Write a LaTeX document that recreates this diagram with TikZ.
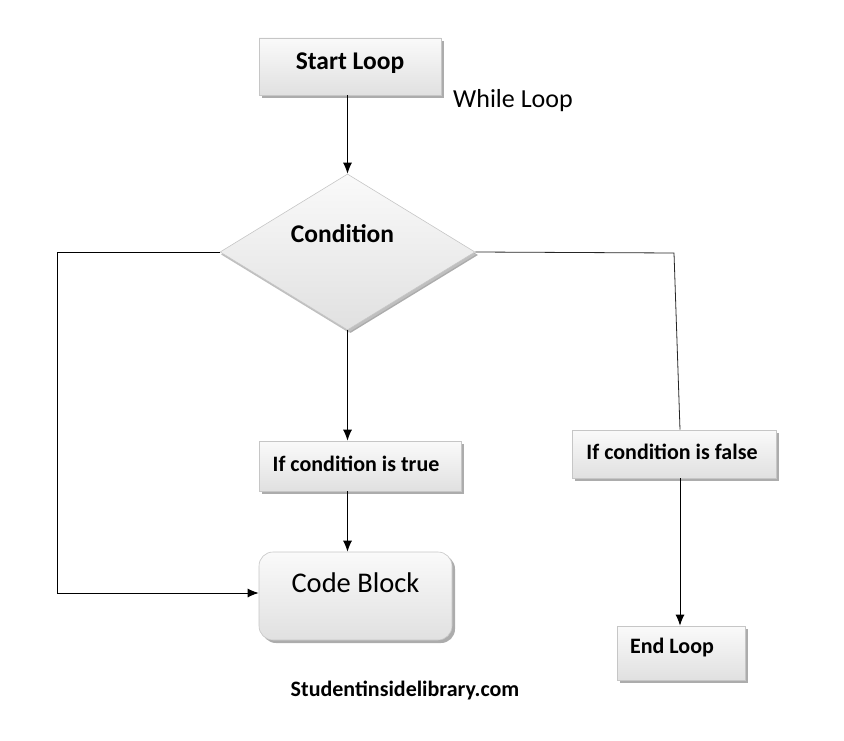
\documentclass[tikz,border=0pt]{standalone}
\usepackage{fontspec}
\setmainfont{Carlito}
\usetikzlibrary{arrows.meta,shapes,shadows}

\begin{document}
\begin{tikzpicture}[x=1pt,y=-1pt,
    box/.style={draw=gray!45, line width=0.6pt, top color=gray!4, bottom color=gray!24,
        drop shadow={shadow xshift=3pt,shadow yshift=-3pt,fill=gray!65,opacity=1}, inner sep=0pt},
    flow/.style={line width=1pt, -{Latex[length=11pt,width=9pt]}},
    wire/.style={draw=black!85, line width=0.8pt},
    bigbold/.style={font=\fontsize{25.5}{30}\selectfont\bfseries},
    smallbold/.style={font=\fontsize{22}{26}\selectfont\bfseries}]

\useasboundingbox (0,0) rectangle (844,741);

% boxes
\node[box, minimum width=182pt, minimum height=57pt,
      label={[bigbold,yshift=3pt]center:Start Loop}] (start) at (350,66.5) {};
\node[box, diamond, minimum width=255pt, minimum height=156pt,
      drop shadow={shadow xshift=1pt,shadow yshift=-2.5pt,fill=gray!50,opacity=1},
      label={[bigbold,xshift=-5pt,yshift=18pt]center:Condition}] (cond) at (347.5,252) {};
\node[box, minimum width=202pt, minimum height=50pt,
      label={[smallbold,xshift=-4pt,yshift=2pt]center:If condition is true}] (truebox) at (360,466) {};
\node[box, rounded corners=14pt, minimum width=193pt, minimum height=88pt,
      label={[font=\fontsize{28.5}{33}\selectfont,yshift=13pt]center:Code Block}] (code) at (355.5,596) {};
\node[box, minimum width=204pt, minimum height=48pt,
      label={[smallbold,xshift=-2pt,yshift=2pt]center:If condition is false}] (falsebox) at (674,454) {};
\node[box, minimum width=128pt, minimum height=54pt,
      label={[smallbold,xshift=-9pt,yshift=5pt]center:End Loop}] (endl) at (681,653) {};

% texts
\node[font=\fontsize{26}{30}\selectfont] (title) at (513,101) {While Loop};
\node[smallbold] (site) at (405,690) {Studentinsidelibrary.com};

% connectors
\draw[flow] (start.south -| cond.north) -- (cond.north);
\draw[flow] (cond.south) -- (cond.south |- truebox.north);
\draw[flow] (truebox.south -| cond.south) -- (code.north -| cond.south);
\draw[flow] (cond.west) -- ++(-162,0) |- ([yshift=3pt]code.west);
\coordinate (bend) at (674,253);
\draw[wire] (cond.east) -- (bend) -- ([xshift=6pt]falsebox.north);
\draw[flow] ([xshift=6pt]falsebox.south) -- ([xshift=6pt]falsebox.south |- endl.north);

\end{tikzpicture}
\end{document}
